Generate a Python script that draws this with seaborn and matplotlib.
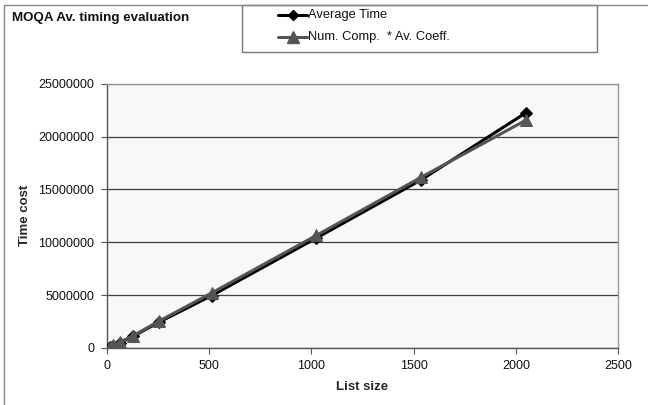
import matplotlib
matplotlib.use("Agg")
import matplotlib.pyplot as plt
from matplotlib.lines import Line2D
from matplotlib.patches import Rectangle
import pandas as pd
import seaborn as sns

list_size = [16, 32, 64, 128, 256, 512, 1024, 1536, 2048]
average_time = [60000, 200000, 500000, 1100000, 2450000, 4950000, 10400000, 15900000, 22250000]
num_comp_coeff = [80000, 230000, 550000, 1150000, 2550000, 5200000, 10650000, 16150000, 21550000]
series_names = ["Average Time", "Num. Comp.  * Av. Coeff."]
y_ticks = [0, 5000000, 10000000, 15000000, 20000000, 25000000]
x_ticks = [0, 500, 1000, 1500, 2000, 2500]

sns.set_theme(style="white")
plt.rcParams["font.family"] = ["Liberation Sans", "DejaVu Sans"]

df = pd.DataFrame({
    "size": list_size * 2,
    "value": average_time + num_comp_coeff,
    "series": [series_names[0]] * len(list_size) + [series_names[1]] * len(list_size),
})

fig = plt.figure(figsize=(6.48, 4.05), dpi=100)
ax = fig.add_axes([0.165, 0.141, 0.789, 0.652])
ax.set_facecolor("#f8f8f8")

colors = {series_names[0]: "#000000", series_names[1]: "#555555"}
markers = {series_names[0]: "D", series_names[1]: "^"}
sizes = {series_names[0]: 6, series_names[1]: 9}

for name in series_names:
    sub = df[df["series"] == name]
    sns.lineplot(data=sub, x="size", y="value", ax=ax, color=colors[name],
                 marker=markers[name], markersize=sizes[name], linewidth=2.2,
                 markeredgecolor=colors[name], legend=False, zorder=3)

ax.set_xlim(0, 2500)
ax.set_ylim(0, 25000000)
ax.set_xticks(x_ticks)
ax.set_yticks(y_ticks)
ax.set_xticklabels([str(t) for t in x_ticks], fontsize=9)
ax.set_yticklabels([str(t) for t in y_ticks], fontsize=9)
ax.yaxis.grid(True, color="#404040", linewidth=0.9)
ax.xaxis.grid(False)
for side in ["top", "right"]:
    ax.spines[side].set_color("#999999")
for side in ["left", "bottom"]:
    ax.spines[side].set_color("#555555")
for sp in ax.spines.values():
    sp.set_linewidth(1.0)
ax.tick_params(axis="both", which="both", length=4, width=0.8, color="#555555",
               direction="out", pad=5, labelcolor="#111111")
ax.tick_params(axis="x", bottom=True)
ax.tick_params(axis="y", left=True)
ax.set_xlabel("List size", fontsize=9.5, fontweight="bold", labelpad=6)
ax.set_ylabel("Time cost", fontsize=9.5, fontweight="bold", labelpad=5)

# chart frame edges
fig.add_artist(Line2D([4 / 648, 4 / 648], [0, 1 - 5 / 405], color="#888888", linewidth=1.0))
fig.add_artist(Line2D([4 / 648, 1], [1 - 5 / 405, 1 - 5 / 405], color="#888888", linewidth=1.0))

fig.text(12 / 648, 1 - 18 / 405, "MOQA Av. timing evaluation", fontsize=9.6,
         fontweight="bold", va="center", ha="left", color="#111111")

# legend box
fig.add_artist(Rectangle((242 / 648, 1 - 52 / 405), (597 - 242) / 648, 47 / 405,
                         transform=fig.transFigure, facecolor="white",
                         edgecolor="#777777", linewidth=1.0))
for i, name in enumerate(series_names):
    yy = 1 - (15 + 22 * i) / 405
    fig.add_artist(Line2D([278 / 648, 307 / 648], [yy, yy], color=colors[name], linewidth=2.2,
                          transform=fig.transFigure))
    fig.add_artist(Line2D([292.5 / 648], [yy], color=colors[name], marker=markers[name],
                          markersize=sizes[name] - 1, transform=fig.transFigure))
    fig.text(308 / 648, yy, name, fontsize=9.3, va="center", ha="left", color="#111111")

fig.savefig("out.png", dpi=100)
